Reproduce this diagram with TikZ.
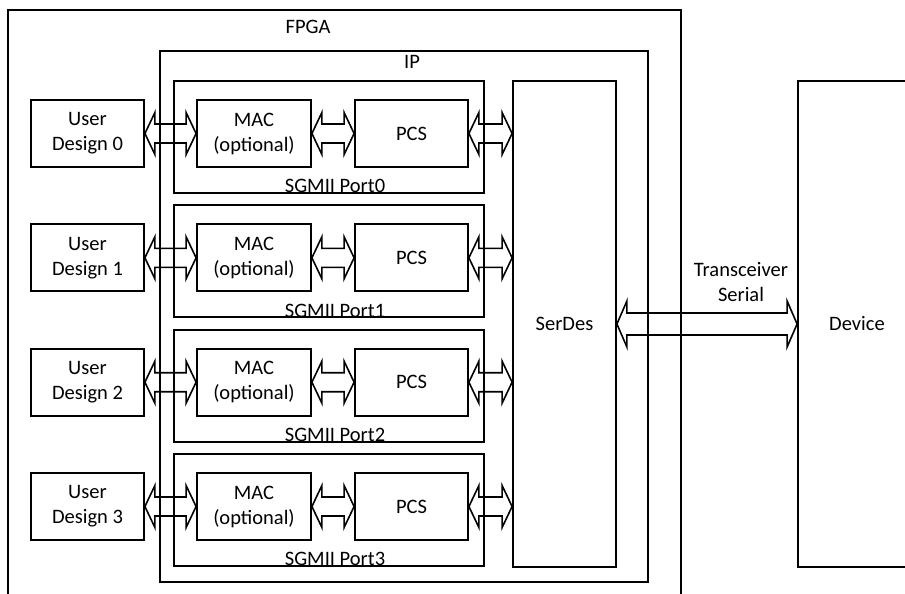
\documentclass[tikz,border=0pt]{standalone}
\usepackage{fontspec}
\setmainfont{Carlito}
\usetikzlibrary{positioning,calc}
\tikzset{
  blk/.style={draw=black,line width=0.9pt,minimum width=56.5pt,minimum height=33.5pt,inner sep=0pt,align=center},
  frame/.style={draw=black,line width=0.9pt,inner sep=0pt,align=center},
  bus/.style={draw=black,line width=0.8pt,line join=miter},
  lbl/.style={inner sep=0pt,align=center},
}
% hollow two-headed bus arrow: tip, tip, head half-height, shaft half-height
\newcommand{\busarrow}[4]{%
  \draw[bus] (#1) -- ($(#1)+(10,-#3)$) -- ($(#1)+(10,-#4)$) -- ($(#2)+(-10,-#4)$)
    -- ($(#2)+(-10,-#3)$) -- (#2) -- ($(#2)+(-10,#3)$) -- ($(#2)+(-10,#4)$)
    -- ($(#1)+(10,#4)$) -- ($(#1)+(10,#3)$) -- cycle;}

\begin{document}
\begin{tikzpicture}[x=0.5pt,y=-0.5pt,font=\fontsize{10.25}{12.5}\selectfont]
\useasboundingbox (0,0) rectangle (905,594);
% outer frames
\node[frame,minimum width=336.5pt,minimum height=300pt] (fpga) at (344.5,310) {};
\node[frame,minimum width=244pt,minimum height=265.5pt] (ip) at (404,316.5) {};
\node[lbl] (fpgatxt) at (308,27) {FPGA};
\node[lbl] (iptxt) at (412,62) {IP};
% SGMII ports
\node[frame,minimum width=155pt,minimum height=56pt] (port0) at (329,137) {};
\node[frame,minimum width=155pt,minimum height=56pt] (port1) at (329,261.3) {};
\node[frame,minimum width=155pt,minimum height=56pt] (port2) at (329,385.7) {};
\node[frame,minimum width=155pt,minimum height=56pt] (port3) at (329,510) {};
\node[lbl,anchor=base] (p0txt) at ([xshift=3pt,yshift=0.5pt]port0.south) {SGMII Port0};
\node[lbl,anchor=base] (p1txt) at ([xshift=3pt,yshift=0.5pt]port1.south) {SGMII Port1};
\node[lbl,anchor=base] (p2txt) at ([xshift=3pt,yshift=0.5pt]port2.south) {SGMII Port2};
\node[lbl,anchor=base] (p3txt) at ([xshift=3pt,yshift=0.5pt]port3.south) {SGMII Port3};
% blocks
\node[blk] (ud0) at (87.5,133.5) {User\\Design 0};
\node[blk] (ud1) at (87.5,257.8) {User\\Design 1};
\node[blk] (ud2) at (87.5,382.2) {User\\Design 2};
\node[blk] (ud3) at (87.5,506.5) {User\\Design 3};
\node[blk,minimum width=57pt] (mac0) at (254,133.5) {MAC\\(optional)};
\node[blk,minimum width=57pt] (mac1) at (254,257.8) {MAC\\(optional)};
\node[blk,minimum width=57pt] (mac2) at (254,382.2) {MAC\\(optional)};
\node[blk,minimum width=57pt] (mac3) at (254,506.5) {MAC\\(optional)};
\node[blk] (pcs0) at (411.5,133.5) {PCS};
\node[blk] (pcs1) at (411.5,257.8) {PCS};
\node[blk] (pcs2) at (411.5,382.2) {PCS};
\node[blk] (pcs3) at (411.5,506.5) {PCS};
\node[frame,minimum width=51.5pt,minimum height=243pt] (serdes) at (564.5,324) {SerDes};
\node[frame,minimum width=59pt,minimum height=243pt] (device) at (857,324) {Device};
\node[lbl] (trx) at (741,282) {Transceiver\\Serial};
\coordinate (sd0) at (serdes.west |- pcs0.east);
\coordinate (sd1) at (serdes.west |- pcs1.east);
\coordinate (sd2) at (serdes.west |- pcs2.east);
\coordinate (sd3) at (serdes.west |- pcs3.east);
% buses
\busarrow{ud0.east}{mac0.west}{21}{9.5}
\busarrow{ud1.east}{mac1.west}{21}{9.5}
\busarrow{ud2.east}{mac2.west}{21}{9.5}
\busarrow{ud3.east}{mac3.west}{21}{9.5}
\busarrow{mac0.east}{pcs0.west}{21}{9.5}
\busarrow{mac1.east}{pcs1.west}{21}{9.5}
\busarrow{mac2.east}{pcs2.west}{21}{9.5}
\busarrow{mac3.east}{pcs3.west}{21}{9.5}
\busarrow{pcs0.east}{sd0}{21}{9.5}
\busarrow{pcs1.east}{sd1}{21}{9.5}
\busarrow{pcs2.east}{sd2}{21}{9.5}
\busarrow{pcs3.east}{sd3}{21}{9.5}
\busarrow{serdes.east}{device.west}{23}{11}
\end{tikzpicture}
\end{document}
